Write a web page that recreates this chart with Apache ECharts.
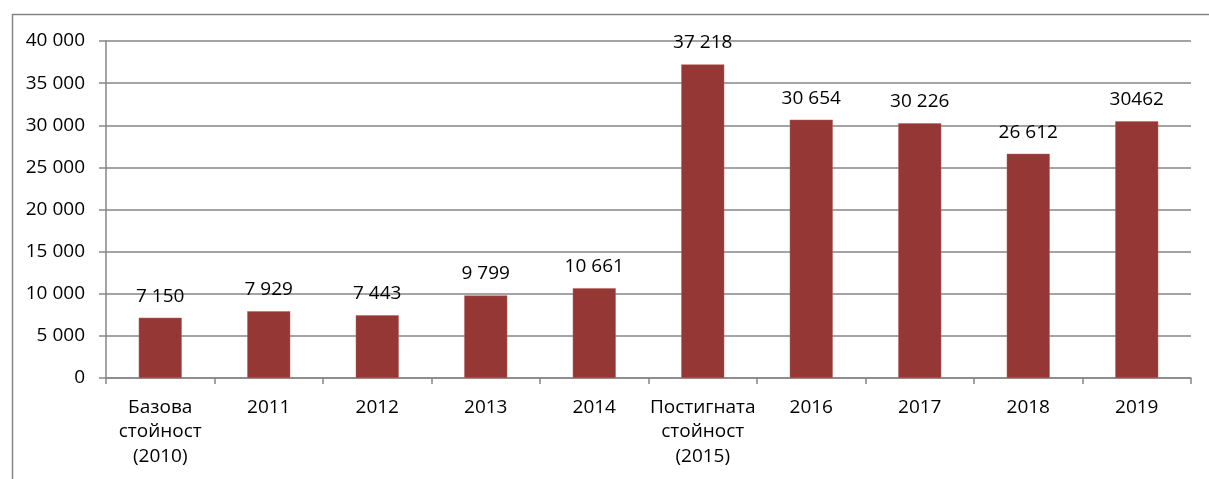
<!DOCTYPE html>
<html>
<head>
<meta charset="utf-8">
<script src="https://cdn.jsdelivr.net/npm/echarts@6/dist/echarts.min.js"></script>
<style>
html,body{margin:0;padding:0;background:#fff;}
#chart{width:1209px;height:479px;}
</style>
</head>
<body>
<div id="chart"></div>
<script>
const categories = ["Базова\nстойност\n(2010)", "2011", "2012", "2013", "2014", "Постигната\nстойност\n(2015)", "2016", "2017", "2018", "2019"];
const values = [7150, 7929, 7443, 9799, 10661, 37218, 30654, 30226, 26612, 30462];
const valueLabels = ["7 150", "7 929", "7 443", "9 799", "10 661", "37 218", "30 654", "30 226", "26 612", "30462"];
const yTicks = [0, 5000, 10000, 15000, 20000, 25000, 30000, 35000, 40000];
const yTickLabels = ["0", "5 000", "10 000", "15 000", "20 000", "25 000", "30 000", "35 000", "40 000"];

const FONT = "'Open Sans', sans-serif";
const GRAY = "#868686";

const chart = echarts.init(document.getElementById('chart'), null, {renderer: 'canvas'});
chart.setOption({
  animation: false,
  backgroundColor: '#ffffff',
  graphic: [{
    type: 'rect',
    left: 10, top: 12,
    shape: {x: 0, y: 0, width: 1400, height: 700},
    style: {fill: 'none', stroke: GRAY, lineWidth: 1.5},
    silent: true,
    z: -10
  }],
  grid: {left: 106, right: 18, top: 41, bottom: 101, containLabel: false},
  xAxis: {
    type: 'category',
    data: categories,
    boundaryGap: true,
    axisLine: {show: true, lineStyle: {color: GRAY, width: 1.5}},
    axisTick: {show: true, length: 6, lineStyle: {color: GRAY, width: 1.5}},
    axisLabel: {
      color: '#000', fontFamily: FONT, fontSize: 19, lineHeight: 24.5,
      margin: 17, interval: 0
    },
    splitLine: {show: false}
  },
  yAxis: {
    type: 'value',
    min: 0, max: 40000, interval: 5000,
    axisLine: {show: true, lineStyle: {color: GRAY, width: 1.5}},
    axisTick: {show: true, length: 7, lineStyle: {color: GRAY, width: 1.5}},
    axisLabel: {
      color: '#000', fontFamily: FONT, fontSize: 19, margin: 21,
      formatter: function (v) {
        const i = yTicks.indexOf(v);
        return i >= 0 ? yTickLabels[i] : '';
      }
    },
    splitLine: {show: true, lineStyle: {color: GRAY, width: 1.5}}
  },
  series: [{
    type: 'bar',
    data: values,
    barWidth: 43,
    itemStyle: {color: '#953735', borderColor: '#b4605e', borderWidth: 0.5},
    label: {
      show: true,
      position: 'top',
      distance: 12,
      color: '#000',
      fontFamily: FONT,
      fontSize: 19,
      formatter: function (p) { return valueLabels[p.dataIndex]; }
    }
  }]
});
</script>
</body>
</html>
